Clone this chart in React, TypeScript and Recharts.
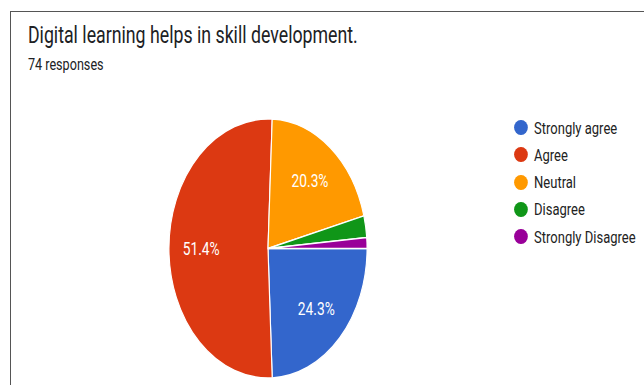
import { PieChart, Pie, Cell, Legend } from 'recharts'

const TITLE = 'Digital learning helps in skill development.'
const SUBTITLE = '74 responses'

const CATEGORIES = ['Strongly agree', 'Agree', 'Neutral', 'Disagree', 'Strongly Disagree']
const COUNTS = [18, 38, 15, 2, 1]
const COLOURS = ['#3366cc', '#dc3912', '#ff9900', '#109618', '#990099']

// the reference is squeezed horizontally, so draw wide and scale x down
const SX = 0.765
const W = 644 / SX
const H = 385
const FONT = 'Roboto, "Noto Sans", Arial, sans-serif'

const data = CATEGORIES.map((name, i) => ({ name, value: COUNTS[i] }))
const total = COUNTS.reduce((a, b) => a + b, 0)

const RAD = Math.PI / 180

function renderLabel(props: any) {
  const { cx, cy, midAngle, outerRadius, value } = props
  const pct = value / total
  if (pct < 0.05) return null
  const r = outerRadius * 0.675
  const x = cx + r * Math.cos(-midAngle * RAD)
  const y = cy + r * Math.sin(-midAngle * RAD)
  return (
    <text
      x={x}
      y={y}
      fill="#ffffff"
      fontSize={18}
      fontFamily={FONT}
      textAnchor="middle"
      dominantBaseline="central"
    >
      {`${(pct * 100).toFixed(1)}%`}
    </text>
  )
}

function LegendList() {
  return (
    <div style={{ fontFamily: FONT }}>
      {data.map((d, i) => (
        <div key={d.name} style={{ display: 'flex', alignItems: 'center', height: 27.3 }}>
          <span
            style={{
              width: 17.5, height: 15, borderRadius: '50%',
              background: COLOURS[i], marginRight: 8.6, flexShrink: 0,
            }}
          />
          <span style={{ fontSize: 17, color: '#222', whiteSpace: 'nowrap' }}>{d.name}</span>
        </div>
      ))}
    </div>
  )
}

export default function App() {
  return (
    <div style={{ position: 'absolute', left: 0, top: 0, width: 644, height: 385, overflow: 'hidden', background: '#fff' }}>
      <div style={{ position: 'absolute', left: 10, top: 11, right: 0, bottom: 0, borderLeft: '1px solid #555', borderTop: '1.5px solid #555' }} />
      <div style={{ position: 'absolute', left: 0, top: 0, width: W, height: H, transform: `scaleX(${SX})`, transformOrigin: '0 0' }}>
        <div style={{ position: 'absolute', left: 36.5, top: 23.5, fontFamily: FONT, fontSize: 23.2, lineHeight: '23.2px', color: '#202124', whiteSpace: 'nowrap' }}>
          {TITLE}
        </div>
        <div style={{ position: 'absolute', left: 36.5, top: 56.8, fontFamily: FONT, fontSize: 16.5, lineHeight: '16.5px', color: '#202124', whiteSpace: 'nowrap' }}>
          {SUBTITLE}
        </div>
        <PieChart
          width={W}
          height={H}
          margin={{ top: 0, right: 0, bottom: 0, left: 0 }}
          style={{ position: 'absolute', left: 0, top: 0 }}
        >
          <Pie
            data={data}
            dataKey="value"
            nameKey="name"
            cx={268 / SX}
            cy={248.5}
            outerRadius={129.5}
            startAngle={0}
            endAngle={-360}
            stroke="#ffffff"
            strokeWidth={1.5}
            label={renderLabel}
            labelLine={false}
            isAnimationActive={false}
          >
            {data.map((d, i) => (
              <Cell key={d.name} fill={COLOURS[i]} />
            ))}
          </Pie>
          <Legend
            layout="vertical"
            verticalAlign="top"
            align="right"
            content={<LegendList />}
            wrapperStyle={{ left: 672, right: 'auto', top: 113.9, width: 200 }}
          />
        </PieChart>
      </div>
    </div>
  )
}
